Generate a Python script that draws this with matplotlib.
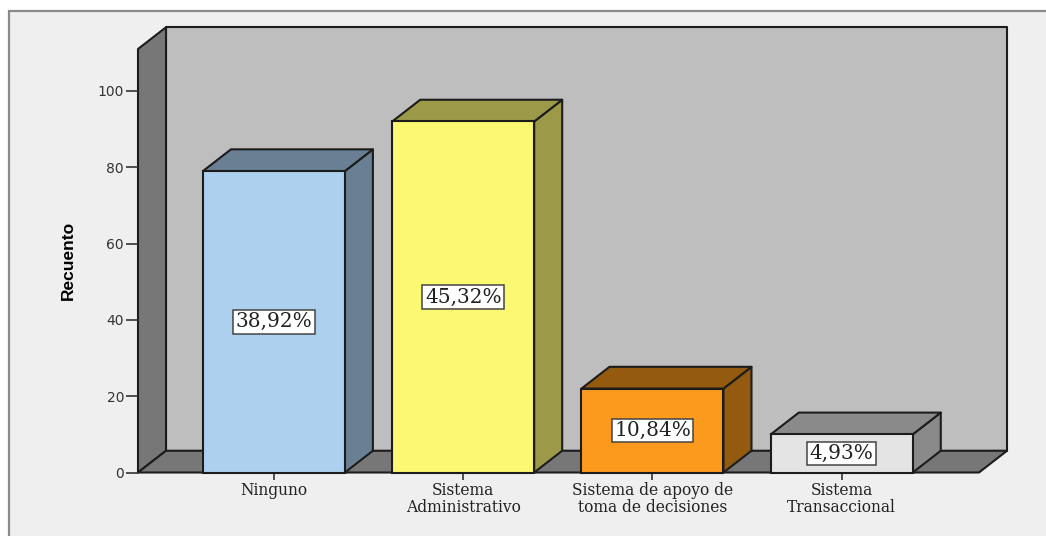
import matplotlib
matplotlib.use("Agg")
import matplotlib.pyplot as plt
from matplotlib.patches import Rectangle

categories = ["Ninguno", "Sistema\nAdministrativo", "Sistema de apoyo de\ntoma de decisiones", "Sistema\nTransaccional"]
counts = [79, 92, 22, 10]
pct_labels = ["38,92%", "45,32%", "10,84%", "4,93%"]
y_ticks = [0, 20, 40, 60, 80, 100]

front_colors = ["#acd0ee", "#fbf872", "#fc9a1e", "#e4e4e4"]
side_colors = ["#697f94", "#9c9a48", "#935a10", "#8a8a8a"]

W, H = 1046, 536
edge = "#1c1c1c"
bar_w = 0.75
xmin, xmax = -0.718, 3.725
ymax = 111
dx = 0.148   # 3d depth, data units
dy = 5.7

fig = plt.figure(figsize=(W / 100, H / 100), dpi=100, facecolor="white")

# grey panel behind the chart
fig.patches.append(Rectangle((9 / W, -0.01), 1.01 - 9 / W, 1.01 - 11 / H, transform=fig.transFigure,
                             facecolor="#efefef", edgecolor="#8a8a8a", linewidth=1.6, zorder=-5))

ax = fig.add_axes([138 / W, (H - 472.5) / H, (979 - 138) / W, 423.5 / H])
ax.set_xlim(xmin, xmax)
ax.set_ylim(0, ymax)
ax.patch.set_visible(False)
for s in ax.spines.values():
    s.set_visible(False)


def face(xs, ys, color, z):
    ax.fill(xs, ys, facecolor=color, edgecolor=edge, linewidth=1.5, joinstyle="round", zorder=z, clip_on=False)


# walls and floor
face([xmin + dx, xmax + dx, xmax + dx, xmin + dx], [dy, dy, ymax + dy, ymax + dy], "#bebebe", 1)
face([xmin, xmin + dx, xmin + dx, xmin], [0, dy, ymax + dy, ymax], "#777777", 1.1)
face([xmin, xmax, xmax + dx, xmin + dx], [0, 0, dy, dy], "#777777", 1.2)

# bars
for i, c in enumerate(counts):
    l = i - bar_w / 2
    r = i + bar_w / 2
    face([r, r + dx, r + dx, r], [0, dy, c + dy, c], side_colors[i], 2)
    face([l, r, r + dx, l + dx], [c, c, c + dy, c + dy], side_colors[i], 2)
ax.bar(range(4), counts, width=bar_w, color=front_colors, edgecolor=edge, linewidth=1.5, zorder=3, clip_on=False)

for i, c in enumerate(counts):
    ax.text(i, c / 2, pct_labels[i], ha="center", va="center", family="DejaVu Serif", fontsize=14.5,
            color="#222222", zorder=5,
            bbox=dict(boxstyle="square,pad=0.12", facecolor="white", edgecolor="#444444", linewidth=1.1))

ax.set_xticks(range(4))
ax.set_xticklabels(categories, family="DejaVu Serif", fontsize=11.2, color="#222222", linespacing=0.95)
ax.set_yticks(y_ticks)
ax.set_yticklabels(y_ticks, family="DejaVu Sans", fontsize=10, color="#333333")
ax.tick_params(axis="x", length=5, width=1.2, color="#333333", pad=2)
ax.tick_params(axis="y", length=9, width=1.2, color="#333333", pad=1)
ax.set_ylabel("Recuento", family="Liberation Sans", fontweight="bold", fontsize=12.5, color="black", labelpad=0)
ax.yaxis.set_label_coords((76 - 138) / (979 - 138), 0.5)

fig.savefig("out.png", dpi=100, facecolor=fig.get_facecolor())
